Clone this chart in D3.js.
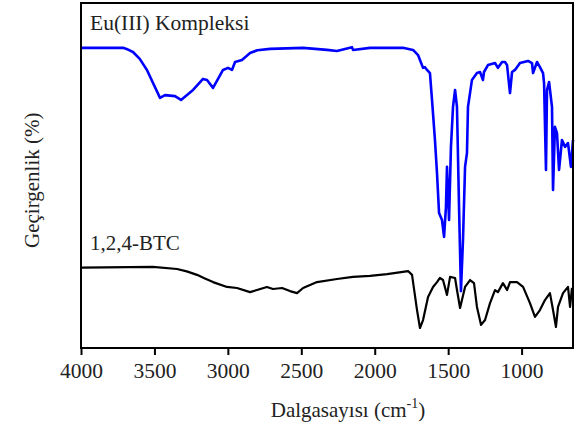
<!DOCTYPE html>
<html>
<head>
<meta charset="utf-8">
<script src="https://cdnjs.cloudflare.com/ajax/libs/d3/7.8.5/d3.min.js" charset="utf-8"></script>
<style>
  body { margin: 0; background: #fff; }
  text { font-family: "Liberation Serif", "Times New Roman", serif; fill: #222; }
</style>
</head>
<body>

<div id="svg"></div>

<script>

// wavenumber (cm-1) and transmittance (arbitrary %)
var wnEu = [4000, 3714, 3680, 3646, 3600, 3551, 3462, 3428, 3360, 3319, 3237, 3169, 3142, 3101, 3033, 2999, 2972, 2951, 2904, 2849, 2800, 2713, 2488, 2325, 2257, 2155, 2148, 2032, 1808, 1739, 1705, 1692, 1671, 1658, 1644, 1624, 1610, 1590, 1576, 1562, 1542, 1528, 1515, 1508, 1494, 1481, 1467, 1453, 1440, 1426, 1413, 1399, 1385, 1372, 1365, 1338, 1304, 1283, 1263, 1256, 1229, 1181, 1161, 1133, 1113, 1099, 1079, 1065, 1045, 1011, 956, 929, 922, 895, 875, 854, 847, 834, 827, 813, 793, 786, 773, 759, 745, 725, 704, 684, 664, 650];
var tEu = [87.0, 87.0, 86.5, 85.8, 83.8, 80.6, 72.5, 73.3, 73.0, 71.9, 74.8, 78.0, 77.7, 75.4, 80.6, 81.2, 80.6, 82.9, 83.5, 85.5, 86.3, 86.7, 87.0, 86.4, 86.1, 87.2, 86.4, 87.0, 87.0, 86.4, 84.9, 83.5, 81.2, 81.4, 80.6, 79.7, 71.9, 60.3, 50.7, 39.1, 37.1, 32.2, 40.9, 52.5, 37.1, 58.3, 69.9, 74.8, 69.9, 40.9, 16.5, 31.3, 52.5, 56.5, 69.9, 77.7, 79.7, 80.0, 77.7, 80.0, 82.0, 82.6, 81.2, 82.9, 82.9, 82.0, 73.9, 80.0, 80.6, 82.6, 83.2, 82.6, 79.7, 82.9, 81.4, 79.7, 76.8, 51.6, 74.8, 77.1, 69.9, 45.8, 64.1, 62.3, 51.6, 60.3, 58.3, 59.4, 52.5, 60.3];

var wnBtc = [4000, 3510, 3346, 3280, 3210, 3160, 3101, 3006, 2938, 2849, 2802, 2734, 2693, 2631, 2577, 2529, 2488, 2393, 2257, 2148, 2032, 1916, 1773, 1746, 1712, 1692, 1671, 1637, 1603, 1576, 1556, 1535, 1508, 1487, 1453, 1440, 1419, 1385, 1351, 1324, 1304, 1276, 1249, 1215, 1181, 1161, 1127, 1099, 1079, 1031, 990, 943, 909, 875, 841, 807, 786, 766, 752, 718, 684, 670, 657];
var tBtc = [23.3, 23.5, 22.9, 22.2, 21.2, 20.2, 19.1, 17.7, 17.4, 16.2, 16.8, 17.7, 17.1, 17.4, 16.5, 15.9, 17.4, 19.1, 20.0, 20.6, 20.9, 21.4, 22.3, 21.2, 11.0, 5.8, 8.1, 14.8, 17.7, 19.1, 20.3, 19.7, 15.4, 20.6, 20.3, 16.8, 11.6, 17.7, 19.7, 18.8, 11.9, 6.7, 8.1, 13.0, 16.8, 16.2, 18.8, 16.8, 19.1, 19.1, 17.7, 13.0, 9.0, 11.0, 13.9, 15.9, 11.0, 6.1, 11.9, 15.9, 17.7, 11.9, 17.4];

var xTicks = [4000, 3500, 3000, 2500, 2000, 1500, 1000];

var seriesNames = ["Eu(III) Kompleksi", "1,2,4-BTC"];

var margin = {top: 3, right: 4, bottom: 77, left: 81};
var W = 577, H = 425;
var w = W - margin.left - margin.right;
var h = H - margin.top - margin.bottom;

var svg = d3.select("#svg")
    .append("svg")
    .attr("width", W)
    .attr("height", H);

var g = svg.append("g")
    .attr("transform", "translate(" + margin.left + "," + margin.top + ")");

var x = d3.scaleLinear().domain([4000, 650]).range([0, w]);
var y = d3.scaleLinear().domain([0, 100]).range([h, 0]);

var line = d3.line()
    .x(d => x(d[0]))
    .y(d => y(d[1]));

var eu = d3.zip(wnEu, tEu);
var btc = d3.zip(wnBtc, tBtc);

g.append("path")
    .datum(btc)
    .attr("fill", "none")
    .attr("stroke", "#000")
    .attr("stroke-width", 2.2)
    .attr("stroke-linejoin", "round")
    .attr("d", line);

g.append("path")
    .datum(eu)
    .attr("fill", "none")
    .attr("stroke", "#0000ff")
    .attr("stroke-width", 2.6)
    .attr("stroke-linejoin", "round")
    .attr("d", line);

// frame
g.append("rect")
    .attr("width", w)
    .attr("height", h)
    .attr("fill", "none")
    .attr("stroke", "#000")
    .attr("stroke-width", 2);

var xAxis = g.append("g")
    .attr("transform", "translate(0," + h + ")")
    .call(d3.axisBottom(x).tickValues(xTicks).tickSize(7).tickFormat(d3.format("d")))
    .attr("font-family", "'Liberation Serif', serif")
    .attr("font-size", 21.5);

xAxis.select(".domain").remove();
xAxis.selectAll(".tick line").attr("stroke", "#000").attr("stroke-width", 2);
xAxis.selectAll(".tick text")
    .attr("y", 30)
    .attr("dy", 0)
    .attr("fill", "#222");

// series labels
g.append("text")
    .attr("x", 9)
    .attr("y", 27)
    .style("font-size", "21.5px")
    .text(seriesNames[0]);

g.append("text")
    .attr("x", 9)
    .attr("y", 247)
    .style("font-size", "21px")
    .text(seriesNames[1]);

// axis titles
var xt = svg.append("text")
    .attr("x", 348)
    .attr("y", 417)
    .attr("text-anchor", "middle")
    .style("font-size", "21px");
xt.append("tspan").text("Dalgasayısı (cm");
xt.append("tspan").attr("dy", -9).style("font-size", "14px").text("-1");
xt.append("tspan").attr("dy", 9).text(")");

svg.append("text")
    .attr("transform", "translate(39,248) rotate(-90)")
    .attr("text-anchor", "start")
    .style("font-size", "21px")
    .text("Geçirgenlik (%)");

</script>

</body>
</html>
